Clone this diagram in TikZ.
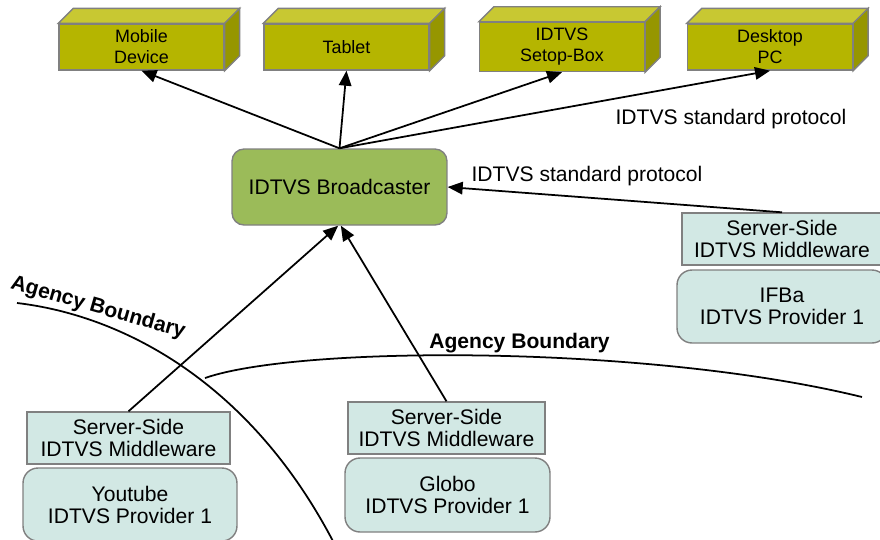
\documentclass[tikz,border=0pt]{standalone}
\usepackage{fontspec}
\setmainfont{Liberation Sans}
\usepackage{tikz}
\definecolor{devfront}{RGB}{181,181,0}
\definecolor{devtop}{RGB}{200,200,50}
\definecolor{devside}{RGB}{150,150,0}
\definecolor{bcgreen}{RGB}{155,187,89}
\definecolor{provfill}{RGB}{210,232,228}
\definecolor{boxgray}{RGB}{128,128,128}
\usetikzlibrary{positioning}
\usetikzlibrary{calc}
\usetikzlibrary{arrows.meta}
\tikzset{device/.style={draw=boxgray,line width=0.8pt,fill=devfront,minimum width=3.3cm,minimum height=0.92cm,align=center,font=\fontsize{10.2}{12}\selectfont}}
\tikzset{bcast/.style={draw=boxgray,line width=0.8pt,fill=bcgreen,rounded corners=0.24cm,minimum width=4.3cm,minimum height=1.52cm}}
\tikzset{mware/.style={draw=boxgray,line width=0.8pt,fill=provfill,minimum width=4cm,minimum height=1.04cm,align=center}}
\tikzset{prov/.style={draw=boxgray,line width=0.8pt,fill=provfill,rounded corners=0.3cm,minimum width=4.2cm,minimum height=1.46cm,align=center}}
\tikzset{line/.style={black,line width=1pt,-{Triangle[length=0.3cm,width=0.25cm]}}}
\tikzset{bound/.style={black,line width=1pt}}
\tikzset{lbl/.style={font=\fontsize{12}{12.5}\selectfont\bfseries}}

\begin{document}
\begin{tikzpicture}[x=0.02cm,y=-0.02cm,font=\fontsize{12}{12.5}\selectfont]
        \useasboundingbox (0,0) rectangle (880,539);
        % devices
        \node[device] (mob) at (141.5,47) {Mobile\\Device};
        \node[device] (tab) at (346.5,47) {Tablet};
        \node[device] (stb) at (562,47) {IDTVS\\Setop-Box};
        \node[device] (pc) at (770,47) {Desktop\\PC};
        \foreach \d in {mob,tab,stb,pc} {
          \draw[draw=boxgray,line width=0.8pt,fill=devtop] (\d.north west) -- ++(15,-15) -- ($(\d.north east)+(15,-15)$) -- (\d.north east) -- cycle;
          \draw[draw=boxgray,line width=0.8pt,fill=devside] (\d.north east) -- ++(15,-15) -- ($(\d.south east)+(15,-15)$) -- (\d.south east) -- cycle;
        }
        \node[bcast] (bc) at (339.5,187) {IDTVS Broadcaster};
        % providers
        \node[mware] (ifmw) at (782,239) {Server-Side\\IDTVS Middleware};
        \node[prov] (ifpr) at (782,306.5) {IFBa\\IDTVS Provider 1};
        \node[mware,minimum width=4.06cm] (ytmw) at (128.5,438) {Server-Side\\IDTVS Middleware};
        \node[prov,minimum width=4.28cm] (ytpr) at (130,504.5) {Youtube\\IDTVS Provider 1};
        \node[mware,minimum width=3.94cm] (glmw) at (446.5,428) {Server-Side\\IDTVS Middleware};
        \node[prov,minimum width=4.1cm,minimum height=1.48cm] (glpr) at (447.5,495) {Globo\\IDTVS Provider 1};
        \node (p1) at (731,119) {IDTVS standard protocol};
        \node (p2) at (587,176) {IDTVS standard protocol};
        % boundaries
        \draw[bound] (17,303) .. controls (120,315) and (250,380) .. (335,545);
        \draw[bound] (205,378) .. controls (300,345) and (650,345) .. (862,397);
        \node[lbl,rotate=-16] (ab1) at (98,308) {Agency Boundary};
        \node[lbl] (ab2) at (519.5,343) {Agency Boundary};
        % arrows
        \draw[line] (bc.north) -- (mob.south);
        \draw[line] (bc.north) -- (tab.south);
        \draw[line] (bc.north) -- (stb.south);
        \draw[line] (bc.north) -- (pc.south);
        \draw[line] (ifmw.north) -- (bc.east);
        \draw[line] (ytmw.north) -- (bc.268);
        \draw[line] (glmw.north) -- (bc.272);
      \end{tikzpicture}
\end{document}
